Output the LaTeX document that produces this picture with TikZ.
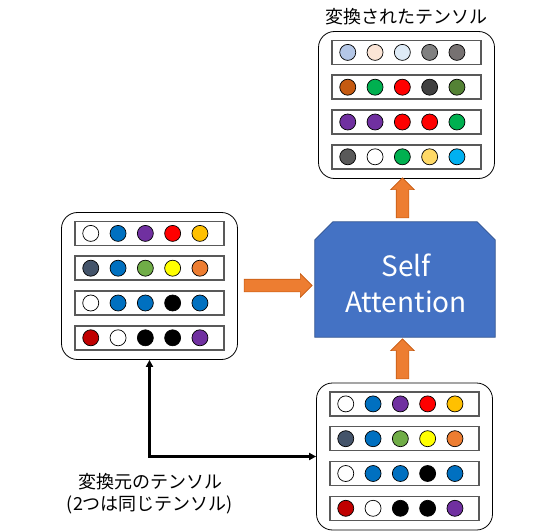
\documentclass[tikz,border=0pt]{standalone}
\usepackage{fontspec}
\setmainfont{Noto Sans CJK JP}
\usetikzlibrary{positioning,arrows.meta,calc,shapes.arrows}
\definecolor{attnblue}{HTML}{4472C4}
\definecolor{attnline}{HTML}{2F528F}
\definecolor{flowfill}{HTML}{ED7D31}
\definecolor{flowline}{HTML}{C55A11}
\definecolor{rowgray}{HTML}{595959}
% circle colours
\definecolor{cLightBlue}{HTML}{B4C7E7}
\definecolor{cPeach}{HTML}{FBE5D6}
\definecolor{cIce}{HTML}{DEEBF7}
\definecolor{cGray}{HTML}{808080}
\definecolor{cWarmGray}{HTML}{767171}
\definecolor{cBrown}{HTML}{C55A11}
\definecolor{cGreen}{HTML}{00B050}
\definecolor{cRed}{HTML}{FF0000}
\definecolor{cDark}{HTML}{404040}
\definecolor{cOlive}{HTML}{548235}
\definecolor{cPurple}{HTML}{7030A0}
\definecolor{cDim}{HTML}{595959}
\definecolor{cSand}{HTML}{FFD966}
\definecolor{cSky}{HTML}{00B0F0}
\definecolor{cBlue}{HTML}{0070C0}
\definecolor{cGold}{HTML}{FFC000}
\definecolor{cSlate}{HTML}{44546A}
\definecolor{cLeaf}{HTML}{70AD47}
\definecolor{cYellow}{HTML}{FFFF00}
\definecolor{cOrange}{HTML}{ED7D31}
\definecolor{cMaroon}{HTML}{C00000}

% one tensor: outer box, four rows, five dots per row
\newcommand{\tensorbox}[3]{%
  \node[tensor] (#1) at (#2) {};
  \foreach \cols [count=\i] in {#3} {
    \node[row] (#1-r\i) at ($(#1.north)+(0,21.3+34.8*\i-34.8)$) {};
    \foreach \c [count=\j] in \cols
      \node[dot, fill=\c] (#1-r\i-d\j) at ($(#1-r\i.west)+(16.5+27.3*\j-27.3,0)$) {};
  }%
}

\begin{document}
\begin{tikzpicture}[
    x=1pt, y=-1pt,
    tensor/.style={rectangle, draw, line width=0.8pt, rounded corners=16pt, minimum width=176pt, minimum height=147pt, inner sep=0pt},
    row/.style={rectangle, draw=rowgray, line width=1.5pt, minimum width=149pt, minimum height=24pt, inner sep=0pt},
    dot/.style={circle, draw, line width=0.7pt, minimum size=16pt, inner sep=0pt},
    flow/.style={single arrow, fill=flowfill, draw=flowline, line width=0.6pt, inner xsep=0pt, inner ysep=6pt, single arrow head extend=5.5pt, single arrow head indent=0pt},
    link/.style={{Triangle[length=7pt,width=7pt]}-{Triangle[length=7pt,width=7pt]}, line width=2.4pt},
    label/.style={font=\fontsize{18}{22}\selectfont, align=center}
]
\useasboundingbox (0,0) rectangle (552,532);

\tensorbox{dst}{406.5,105}{{cLightBlue,cPeach,cIce,cGray,cWarmGray},{cBrown,cGreen,cRed,cDark,cOlive},{cPurple,cPurple,cRed,cRed,cGreen},{cDim,white,cGreen,cSand,cSky}}
\tensorbox{src}{149.5,286}{{white,cBlue,cPurple,cRed,cGold},{cSlate,cBlue,cLeaf,cYellow,cOrange},{white,cBlue,cBlue,black,cBlue},{cMaroon,white,black,black,cPurple}}
\tensorbox{src2}{404.5,456.5}{{white,cBlue,cPurple,cRed,cGold},{cSlate,cBlue,cLeaf,cYellow,cOrange},{white,cBlue,cBlue,black,cBlue},{cMaroon,white,black,black,cPurple}}

% self attention block, top corners cut off
\node[minimum width=180pt, minimum height=115pt, inner sep=0pt] (attn) at (405,279.5) {};
\filldraw[fill=attnblue, draw=attnline, line width=0.8pt]
  (attn.south west) -- ($(attn.north west)+(0,18)$) -- ($(attn.north west)+(18,0)$)
  -- ($(attn.north east)+(-18,0)$) -- ($(attn.north east)+(0,18)$) -- (attn.south east) -- cycle;
\node[text=white, align=center, font=\fontsize{28}{36}\selectfont] (attntext) at ($(attn.center)+(1,4)$) {Self\\Attention};

% orange flow arrows
\node[flow, minimum height=68pt] (feed) at (275,285.5) {};
\node[flow, minimum height=40pt, rotate=90] (up1) at (402.5,201) {};
\node[flow, minimum height=40pt, rotate=90] (up2) at (402.5,362) {};

\draw[link] (src.south) |- (src2.west);

\node[label, above=3pt of dst] (dstlabel) {変換されたテンソル};
\node[label] (srclabel) at (150,494) {変換元のテンソル\\(2つは同じテンソル)};
\end{tikzpicture}
\end{document}
